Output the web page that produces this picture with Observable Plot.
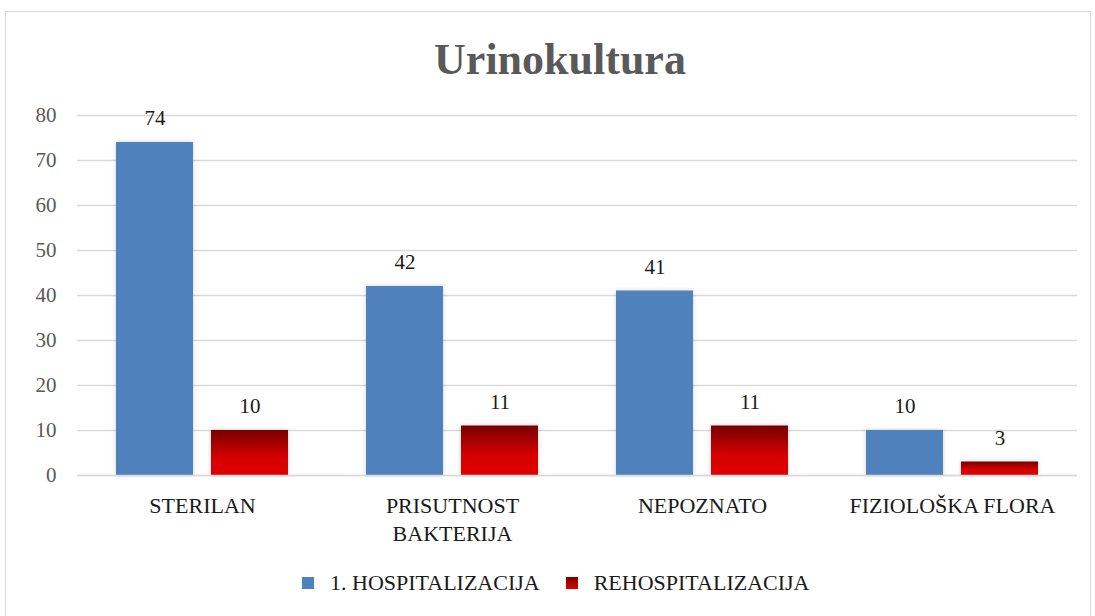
<!DOCTYPE html>
<html>
<head>
<meta charset="utf-8">
<script src="https://cdn.jsdelivr.net/npm/d3@7"></script>
<script src="https://cdn.jsdelivr.net/npm/@observablehq/plot@0.6"></script>
<style>
  html, body { margin: 0; padding: 0; background: #fff; }
  #wrap { position: relative; width: 1095px; height: 616px; overflow: hidden; font-family: "Liberation Serif", serif; }
  #frame { position: absolute; left: 5px; top: 11px; width: 1086px; height: 640px; border: 1.5px solid #d9d9d9; box-sizing: border-box; }
  #title { position: absolute; left: 0; width: 1120px; top: 34px; text-align: center; font-size: 44px; font-weight: bold; color: #595959; }
  #chart { position: absolute; left: 0; top: 0; }
  #legend { position: absolute; top: 570px; left: 302px; display: flex; align-items: center; font-size: 22px; color: #1a1a1a; }
  .sw { width: 12px; height: 12px; display: inline-block; margin-right: 16px; }
  .item { display: flex; align-items: center; margin-right: 26px; }
  #chart rect { filter: drop-shadow(0 0 2px rgba(0,0,0,0.18)); }
</style>
</head>
<body>
<div id="wrap">
  <div id="frame"></div>
  <div id="chart"></div>
  <div id="title">Urinokultura</div>
  <div id="legend"></div>
</div>
<script>
const categories = ["STERILAN", "PRISUTNOST BAKTERIJA", "NEPOZNATO", "FIZIOLOŠKA FLORA"];
const categoryLabels = ["STERILAN", "PRISUTNOST\nBAKTERIJA", "NEPOZNATO", "FIZIOLOŠKA FLORA"];
const series = ["1. HOSPITALIZACIJA", "REHOSPITALIZACIJA"];
const hospitalizacija = [74, 42, 41, 10];
const rehospitalizacija = [10, 11, 11, 3];
const yTicks = [0, 10, 20, 30, 40, 50, 60, 70, 80];

const blue = "#4F81BD";
const data1 = categories.map((c, i) => ({category: c, series: series[0], value: hospitalizacija[i]}));
const data2 = categories.map((c, i) => ({category: c, series: series[1], value: rehospitalizacija[i]}));
const all = data1.concat(data2);

function defs() {
  const ns = "http://www.w3.org/2000/svg";
  const d = document.createElementNS(ns, "defs");
  const g = document.createElementNS(ns, "linearGradient");
  g.setAttribute("id", "redGrad");
  g.setAttribute("x1", "0"); g.setAttribute("y1", "0");
  g.setAttribute("x2", "0"); g.setAttribute("y2", "1");
  [["0", "#780000"], ["0.6", "#d60000"], ["1", "#e00000"]].forEach(([o, c]) => {
    const s = document.createElementNS(ns, "stop");
    s.setAttribute("offset", o); s.setAttribute("stop-color", c);
    g.appendChild(s);
  });
  d.appendChild(g);
  return d;
}

const chart = Plot.plot({
  width: 1095,
  height: 616,
  marginLeft: 76,
  marginRight: 18,
  marginTop: 115,
  marginBottom: 141,
  style: {fontFamily: "'Liberation Serif', serif", background: "transparent"},
  fx: {domain: categories, padding: 0},
  x: {domain: series, axis: null, paddingInner: 0.19, paddingOuter: 0.41},
  y: {domain: [0, 80], axis: null},
  marks: [
    defs,
    Plot.gridY(yTicks, {stroke: "#d9d9d9", strokeOpacity: 1, strokeWidth: 1.5}),
    Plot.barY(data1, {fx: "category", x: "series", y: "value", fill: blue}),
    Plot.barY(data2, {fx: "category", x: "series", y: "value", fill: "url(#redGrad)"}),
    Plot.ruleY([0], {stroke: "#d9d9d9", strokeWidth: 1.5}),
    Plot.text(all, {fx: "category", x: "series", y: "value", text: d => String(d.value), dy: -24, fontSize: 21, fill: "#1a1a1a"}),
    Plot.axisY({ticks: yTicks, tickSize: 0, tickPadding: 21, fontSize: 21, fill: "#595959", label: null}),
    Plot.axisFx({anchor: "bottom", tickSize: 0, tickPadding: 18, fontSize: 22, fill: "#1a1a1a", lineHeight: 1.25, label: null,
      tickFormat: d => categoryLabels[categories.indexOf(d)]})
  ]
});
document.getElementById("chart").appendChild(chart);

const legend = document.getElementById("legend");
[[series[0], blue], [series[1], "linear-gradient(#780000, #e00000)"]].forEach(([name, col]) => {
  const it = document.createElement("div"); it.className = "item";
  const sw = document.createElement("span"); sw.className = "sw"; sw.style.background = col;
  const t = document.createElement("span"); t.textContent = name;
  it.appendChild(sw); it.appendChild(t); legend.appendChild(it);
});
</script>
</body>
</html>
